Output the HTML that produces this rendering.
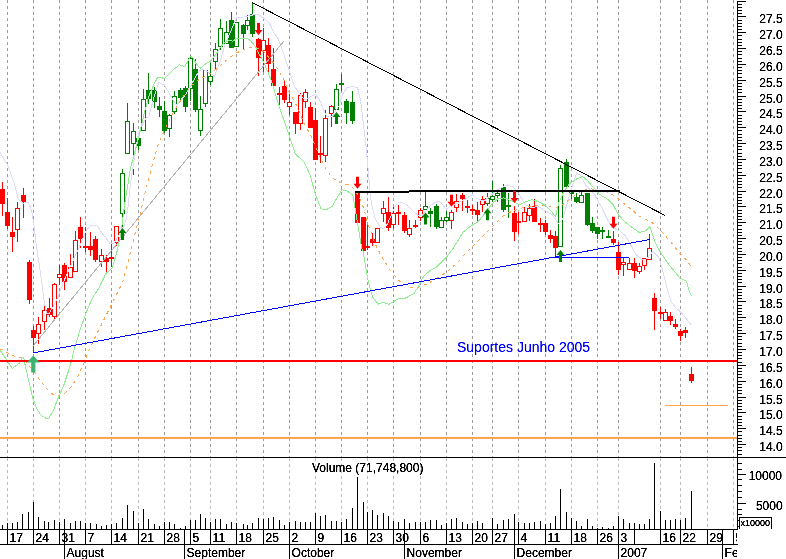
<!DOCTYPE html>
<html><head><meta charset="utf-8"><title>Chart</title>
<style>html,body{margin:0;padding:0;background:#fff;overflow:hidden}svg{display:block}text{font-family:"Liberation Sans",sans-serif;}</style></head><body>
<svg width="786" height="559" viewBox="0 0 786 559" shape-rendering="crispEdges">
<rect x="0" y="0" width="786" height="559" fill="#ffffff"/>
<defs><filter id="bw" x="0" y="0" width="100%" height="100%" filterUnits="userSpaceOnUse" primitiveUnits="userSpaceOnUse"><feComponentTransfer><feFuncA type="linear" slope="2.0" intercept="-0.12"/></feComponentTransfer></filter><filter id="bw2" x="0" y="0" width="100%" height="100%" filterUnits="userSpaceOnUse" primitiveUnits="userSpaceOnUse"><feComponentTransfer><feFuncA type="linear" slope="1.35" intercept="-0.05"/></feComponentTransfer></filter></defs>
<g stroke="#9c9c9c" stroke-width="1" stroke-dasharray="3 3" fill="none">
<line x1="7.5" y1="0" x2="7.5" y2="457"/>
<line x1="33.5" y1="0" x2="33.5" y2="457"/>
<line x1="59.5" y1="0" x2="59.5" y2="457"/>
<line x1="85.5" y1="0" x2="85.5" y2="457"/>
<line x1="111.5" y1="0" x2="111.5" y2="457"/>
<line x1="138.5" y1="0" x2="138.5" y2="457"/>
<line x1="164.5" y1="0" x2="164.5" y2="457"/>
<line x1="190.5" y1="0" x2="190.5" y2="457"/>
<line x1="210.5" y1="0" x2="210.5" y2="457"/>
<line x1="236.5" y1="0" x2="236.5" y2="457"/>
<line x1="263.5" y1="0" x2="263.5" y2="457"/>
<line x1="289.5" y1="0" x2="289.5" y2="457"/>
<line x1="315.5" y1="0" x2="315.5" y2="457"/>
<line x1="341.5" y1="0" x2="341.5" y2="457"/>
<line x1="367.5" y1="0" x2="367.5" y2="457"/>
<line x1="393.5" y1="0" x2="393.5" y2="457"/>
<line x1="420.5" y1="0" x2="420.5" y2="457"/>
<line x1="446.5" y1="0" x2="446.5" y2="457"/>
<line x1="472.5" y1="0" x2="472.5" y2="457"/>
<line x1="492.5" y1="0" x2="492.5" y2="457"/>
<line x1="518.5" y1="0" x2="518.5" y2="457"/>
<line x1="545.5" y1="0" x2="545.5" y2="457"/>
<line x1="571.5" y1="0" x2="571.5" y2="457"/>
<line x1="597.5" y1="0" x2="597.5" y2="457"/>
<line x1="618.5" y1="0" x2="618.5" y2="457"/>
<line x1="660.5" y1="0" x2="660.5" y2="457"/>
<line x1="680.5" y1="0" x2="680.5" y2="457"/>
<line x1="707.5" y1="0" x2="707.5" y2="457"/>
<line x1="733.5" y1="0" x2="733.5" y2="457"/>
</g>
<g stroke="#bcbcbc" stroke-width="1" stroke-dasharray="3 3" fill="none">
<line x1="7.5" y1="458" x2="7.5" y2="529"/>
<line x1="33.5" y1="458" x2="33.5" y2="529"/>
<line x1="59.5" y1="458" x2="59.5" y2="529"/>
<line x1="85.5" y1="458" x2="85.5" y2="529"/>
<line x1="111.5" y1="458" x2="111.5" y2="529"/>
<line x1="138.5" y1="458" x2="138.5" y2="529"/>
<line x1="164.5" y1="458" x2="164.5" y2="529"/>
<line x1="190.5" y1="458" x2="190.5" y2="529"/>
<line x1="210.5" y1="458" x2="210.5" y2="529"/>
<line x1="236.5" y1="458" x2="236.5" y2="529"/>
<line x1="263.5" y1="458" x2="263.5" y2="529"/>
<line x1="289.5" y1="458" x2="289.5" y2="529"/>
<line x1="315.5" y1="458" x2="315.5" y2="529"/>
<line x1="341.5" y1="458" x2="341.5" y2="529"/>
<line x1="367.5" y1="458" x2="367.5" y2="529"/>
<line x1="393.5" y1="458" x2="393.5" y2="529"/>
<line x1="420.5" y1="458" x2="420.5" y2="529"/>
<line x1="446.5" y1="458" x2="446.5" y2="529"/>
<line x1="472.5" y1="458" x2="472.5" y2="529"/>
<line x1="492.5" y1="458" x2="492.5" y2="529"/>
<line x1="518.5" y1="458" x2="518.5" y2="529"/>
<line x1="545.5" y1="458" x2="545.5" y2="529"/>
<line x1="571.5" y1="458" x2="571.5" y2="529"/>
<line x1="597.5" y1="458" x2="597.5" y2="529"/>
<line x1="618.5" y1="458" x2="618.5" y2="529"/>
<line x1="660.5" y1="458" x2="660.5" y2="529"/>
<line x1="680.5" y1="458" x2="680.5" y2="529"/>
<line x1="707.5" y1="458" x2="707.5" y2="529"/>
<line x1="733.5" y1="458" x2="733.5" y2="529"/>
</g>
<rect x="0" y="437" width="737" height="2" fill="#ffa54f"/>
<rect x="665" y="405" width="63" height="1" fill="#ffa54f"/>
<rect x="2" y="182" width="1" height="34" fill="#ff0000"/>
<rect x="0" y="189" width="5" height="15" fill="#ff0000"/>
<rect x="7" y="198" width="1" height="31" fill="#ff0000"/>
<rect x="5" y="212" width="5" height="14" fill="#ff0000"/>
<rect x="12" y="217" width="1" height="35" fill="#ff0000"/>
<rect x="10" y="232" width="5" height="5" fill="#ff0000"/>
<rect x="17" y="202" width="1" height="6" fill="#ff0000"/>
<rect x="17" y="230" width="1" height="12" fill="#ff0000"/>
<rect x="15.5" y="208.5" width="4" height="21" fill="#fff" stroke="#ff0000" stroke-width="1"/>
<rect x="23" y="188" width="1" height="30" fill="#ff0000"/>
<rect x="21" y="195" width="5" height="7" fill="#ff0000"/>
<rect x="29" y="260" width="1" height="44" fill="#ff0000"/>
<rect x="27" y="262" width="5" height="38" fill="#ff0000"/>
<rect x="33" y="326" width="1" height="26" fill="#ff0000"/>
<rect x="31" y="330" width="5" height="8" fill="#ff0000"/>
<rect x="38" y="317" width="1" height="7" fill="#ff0000"/>
<rect x="38" y="334" width="1" height="10" fill="#ff0000"/>
<rect x="36.5" y="324.5" width="4" height="9" fill="#fff" stroke="#ff0000" stroke-width="1"/>
<rect x="44" y="304" width="1" height="6" fill="#ff0000"/>
<rect x="44" y="322" width="1" height="8" fill="#ff0000"/>
<rect x="42.5" y="310.5" width="4" height="11" fill="#fff" stroke="#ff0000" stroke-width="1"/>
<rect x="49" y="298" width="1" height="19" fill="#ff0000"/>
<rect x="47" y="308" width="5" height="7" fill="#ff0000"/>
<rect x="54" y="283" width="1" height="1" fill="#ff0000"/>
<rect x="54" y="317" width="1" height="4" fill="#ff0000"/>
<rect x="52.5" y="284.5" width="4" height="32" fill="#fff" stroke="#ff0000" stroke-width="1"/>
<rect x="59" y="265" width="1" height="9" fill="#ff0000"/>
<rect x="59" y="278" width="1" height="7" fill="#ff0000"/>
<rect x="57.5" y="274.5" width="4" height="3" fill="#fff" stroke="#ff0000" stroke-width="1"/>
<rect x="64" y="263" width="1" height="27" fill="#ff0000"/>
<rect x="62" y="265" width="5" height="17" fill="#ff0000"/>
<rect x="70" y="254" width="1" height="13" fill="#ff0000"/>
<rect x="68.5" y="267.5" width="4" height="10" fill="#fff" stroke="#ff0000" stroke-width="1"/>
<rect x="75" y="231" width="1" height="9" fill="#ff0000"/>
<rect x="73.5" y="240.5" width="4" height="31" fill="#fff" stroke="#ff0000" stroke-width="1"/>
<rect x="80" y="217" width="1" height="31" fill="#ff0000"/>
<rect x="78" y="227" width="5" height="12" fill="#ff0000"/>
<rect x="85" y="227" width="1" height="25" fill="#ff0000"/>
<rect x="83" y="246" width="5" height="2" fill="#ff0000"/>
<rect x="90" y="232" width="1" height="24" fill="#ff0000"/>
<rect x="88" y="246" width="5" height="4" fill="#ff0000"/>
<rect x="95" y="236" width="1" height="26" fill="#ff0000"/>
<rect x="93" y="239" width="5" height="21" fill="#ff0000"/>
<rect x="101" y="249" width="1" height="6" fill="#ff0000"/>
<rect x="101" y="262" width="1" height="5" fill="#ff0000"/>
<rect x="99.5" y="255.5" width="4" height="6" fill="#fff" stroke="#ff0000" stroke-width="1"/>
<rect x="106" y="255" width="1" height="19" fill="#ff0000"/>
<rect x="104" y="258" width="5" height="4" fill="#ff0000"/>
<rect x="111" y="244" width="1" height="23" fill="#ff0000"/>
<rect x="109" y="257" width="5" height="2" fill="#ff0000"/>
<rect x="116" y="243" width="1" height="3" fill="#ff0000"/>
<rect x="114.5" y="226.5" width="4" height="16" fill="#fff" stroke="#ff0000" stroke-width="1"/>
<rect x="122" y="169" width="1" height="4" fill="#008000"/>
<rect x="122" y="214" width="1" height="14" fill="#008000"/>
<rect x="120.5" y="173.5" width="4" height="40" fill="#fff" stroke="#008000" stroke-width="1"/>
<rect x="127" y="103" width="1" height="18" fill="#008000"/>
<rect x="125.5" y="121.5" width="4" height="32" fill="#fff" stroke="#008000" stroke-width="1"/>
<rect x="133" y="123" width="1" height="8" fill="#008000"/>
<rect x="133" y="144" width="1" height="15" fill="#008000"/>
<rect x="131.5" y="131.5" width="4" height="12" fill="#fff" stroke="#008000" stroke-width="1"/>
<rect x="138" y="138" width="1" height="12" fill="#008000"/>
<rect x="136" y="138" width="5" height="8" fill="#008000"/>
<rect x="143" y="89" width="1" height="10" fill="#008000"/>
<rect x="141.5" y="99.5" width="4" height="31" fill="#fff" stroke="#008000" stroke-width="1"/>
<rect x="148" y="73" width="1" height="31" fill="#008000"/>
<rect x="146" y="90" width="5" height="9" fill="#008000"/>
<rect x="154" y="87" width="1" height="21" fill="#008000"/>
<rect x="152" y="90" width="5" height="12" fill="#008000"/>
<rect x="159" y="97" width="1" height="20" fill="#008000"/>
<rect x="157" y="106" width="5" height="4" fill="#008000"/>
<rect x="164" y="101" width="1" height="32" fill="#008000"/>
<rect x="162" y="111" width="5" height="20" fill="#008000"/>
<rect x="169" y="114" width="1" height="1" fill="#008000"/>
<rect x="169" y="129" width="1" height="8" fill="#008000"/>
<rect x="167.5" y="115.5" width="4" height="13" fill="#fff" stroke="#008000" stroke-width="1"/>
<rect x="174" y="91" width="1" height="5" fill="#008000"/>
<rect x="174" y="112" width="1" height="2" fill="#008000"/>
<rect x="172.5" y="96.5" width="4" height="15" fill="#fff" stroke="#008000" stroke-width="1"/>
<rect x="180" y="88" width="1" height="13" fill="#008000"/>
<rect x="178" y="90" width="5" height="8" fill="#008000"/>
<rect x="185" y="86" width="1" height="26" fill="#008000"/>
<rect x="183" y="88" width="5" height="19" fill="#008000"/>
<rect x="190" y="57" width="1" height="1" fill="#008000"/>
<rect x="190" y="89" width="1" height="12" fill="#008000"/>
<rect x="188.5" y="58.5" width="4" height="30" fill="#fff" stroke="#008000" stroke-width="1"/>
<rect x="195" y="59" width="1" height="53" fill="#008000"/>
<rect x="193" y="69" width="5" height="41" fill="#008000"/>
<rect x="200" y="96" width="1" height="13" fill="#008000"/>
<rect x="200" y="131" width="1" height="5" fill="#008000"/>
<rect x="198.5" y="109.5" width="4" height="21" fill="#fff" stroke="#008000" stroke-width="1"/>
<rect x="205" y="104" width="1" height="3" fill="#008000"/>
<rect x="203.5" y="70.5" width="4" height="33" fill="#fff" stroke="#008000" stroke-width="1"/>
<rect x="210" y="63" width="1" height="13" fill="#008000"/>
<rect x="210" y="82" width="1" height="3" fill="#008000"/>
<rect x="208.5" y="76.5" width="4" height="5" fill="#fff" stroke="#008000" stroke-width="1"/>
<rect x="215" y="43" width="1" height="6" fill="#008000"/>
<rect x="215" y="62" width="1" height="8" fill="#008000"/>
<rect x="213.5" y="49.5" width="4" height="12" fill="#fff" stroke="#008000" stroke-width="1"/>
<rect x="220" y="19" width="1" height="9" fill="#008000"/>
<rect x="220" y="47" width="1" height="3" fill="#008000"/>
<rect x="218.5" y="28.5" width="4" height="18" fill="#fff" stroke="#008000" stroke-width="1"/>
<rect x="226" y="21" width="1" height="11" fill="#008000"/>
<rect x="224.5" y="32.5" width="4" height="11" fill="#fff" stroke="#008000" stroke-width="1"/>
<rect x="231" y="12" width="1" height="36" fill="#008000"/>
<rect x="229" y="20" width="5" height="28" fill="#008000"/>
<rect x="234.5" y="22.5" width="4" height="24" fill="#fff" stroke="#008000" stroke-width="1"/>
<rect x="243" y="24" width="1" height="26" fill="#008000"/>
<rect x="241" y="25" width="5" height="9" fill="#008000"/>
<rect x="247" y="15" width="1" height="5" fill="#008000"/>
<rect x="247" y="26" width="1" height="4" fill="#008000"/>
<rect x="245.5" y="20.5" width="4" height="5" fill="#fff" stroke="#008000" stroke-width="1"/>
<rect x="252" y="3" width="1" height="34" fill="#008000"/>
<rect x="250" y="14" width="5" height="20" fill="#008000"/>
<rect x="258" y="38" width="1" height="38" fill="#ff0000"/>
<rect x="256" y="39" width="5" height="19" fill="#ff0000"/>
<rect x="263" y="28" width="1" height="12" fill="#ff0000"/>
<rect x="263" y="51" width="1" height="21" fill="#ff0000"/>
<rect x="261.5" y="40.5" width="4" height="10" fill="#fff" stroke="#ff0000" stroke-width="1"/>
<rect x="268" y="38" width="1" height="37" fill="#ff0000"/>
<rect x="266" y="45" width="5" height="19" fill="#ff0000"/>
<rect x="273" y="48" width="1" height="38" fill="#ff0000"/>
<rect x="271" y="69" width="5" height="17" fill="#ff0000"/>
<rect x="279" y="87" width="1" height="18" fill="#ff0000"/>
<rect x="277" y="93" width="5" height="2" fill="#ff0000"/>
<rect x="284" y="81" width="1" height="22" fill="#ff0000"/>
<rect x="282" y="86" width="5" height="14" fill="#ff0000"/>
<rect x="289" y="94" width="1" height="8" fill="#ff0000"/>
<rect x="289" y="107" width="1" height="8" fill="#ff0000"/>
<rect x="287.5" y="102.5" width="4" height="4" fill="#fff" stroke="#ff0000" stroke-width="1"/>
<rect x="295" y="112" width="1" height="22" fill="#ff0000"/>
<rect x="293" y="112" width="5" height="12" fill="#ff0000"/>
<rect x="300" y="93" width="1" height="2" fill="#ff0000"/>
<rect x="300" y="124" width="1" height="6" fill="#ff0000"/>
<rect x="298.5" y="95.5" width="4" height="28" fill="#fff" stroke="#ff0000" stroke-width="1"/>
<rect x="305" y="89" width="1" height="3" fill="#ff0000"/>
<rect x="305" y="102" width="1" height="6" fill="#ff0000"/>
<rect x="303.5" y="92.5" width="4" height="9" fill="#fff" stroke="#ff0000" stroke-width="1"/>
<rect x="310" y="102" width="1" height="26" fill="#ff0000"/>
<rect x="308" y="107" width="5" height="21" fill="#ff0000"/>
<rect x="315" y="108" width="1" height="52" fill="#ff0000"/>
<rect x="313" y="120" width="5" height="40" fill="#ff0000"/>
<rect x="320" y="136" width="1" height="27" fill="#ff0000"/>
<rect x="318" y="153" width="5" height="2" fill="#ff0000"/>
<rect x="325" y="110" width="1" height="8" fill="#ff0000"/>
<rect x="325" y="156" width="1" height="6" fill="#ff0000"/>
<rect x="323.5" y="118.5" width="4" height="37" fill="#fff" stroke="#ff0000" stroke-width="1"/>
<rect x="331" y="105" width="1" height="1" fill="#ff0000"/>
<rect x="331" y="114" width="1" height="13" fill="#ff0000"/>
<rect x="329.5" y="106.5" width="4" height="7" fill="#fff" stroke="#ff0000" stroke-width="1"/>
<rect x="336" y="84" width="1" height="5" fill="#008000"/>
<rect x="334.5" y="89.5" width="4" height="20" fill="#fff" stroke="#008000" stroke-width="1"/>
<rect x="341" y="74" width="1" height="17" fill="#008000"/>
<rect x="339" y="83" width="5" height="2" fill="#008000"/>
<rect x="346" y="99" width="1" height="25" fill="#008000"/>
<rect x="344" y="101" width="5" height="12" fill="#008000"/>
<rect x="352" y="91" width="1" height="33" fill="#008000"/>
<rect x="350" y="102" width="5" height="19" fill="#008000"/>
<rect x="357" y="192" width="1" height="31" fill="#ff0000"/>
<rect x="355" y="192" width="5" height="31" fill="#ff0000"/>
<rect x="363" y="217" width="1" height="34" fill="#ff0000"/>
<rect x="361" y="217" width="5" height="34" fill="#ff0000"/>
<rect x="367" y="225" width="1" height="25" fill="#ff0000"/>
<rect x="365" y="246" width="5" height="2" fill="#ff0000"/>
<rect x="372" y="233" width="1" height="13" fill="#ff0000"/>
<rect x="370" y="239" width="5" height="4" fill="#ff0000"/>
<rect x="375.5" y="228.5" width="4" height="14" fill="#fff" stroke="#ff0000" stroke-width="1"/>
<rect x="383" y="201" width="1" height="7" fill="#ff0000"/>
<rect x="383" y="214" width="1" height="8" fill="#ff0000"/>
<rect x="381.5" y="208.5" width="4" height="5" fill="#fff" stroke="#ff0000" stroke-width="1"/>
<rect x="388" y="197" width="1" height="34" fill="#ff0000"/>
<rect x="386" y="212" width="5" height="16" fill="#ff0000"/>
<rect x="393" y="207" width="1" height="6" fill="#ff0000"/>
<rect x="393" y="225" width="1" height="4" fill="#ff0000"/>
<rect x="391.5" y="213.5" width="4" height="11" fill="#fff" stroke="#ff0000" stroke-width="1"/>
<rect x="398" y="205" width="1" height="20" fill="#ff0000"/>
<rect x="396" y="212" width="5" height="2" fill="#ff0000"/>
<rect x="404" y="212" width="1" height="21" fill="#ff0000"/>
<rect x="402" y="215" width="5" height="16" fill="#ff0000"/>
<rect x="409" y="220" width="1" height="8" fill="#ff0000"/>
<rect x="409" y="235" width="1" height="2" fill="#ff0000"/>
<rect x="407.5" y="228.5" width="4" height="6" fill="#fff" stroke="#ff0000" stroke-width="1"/>
<rect x="415" y="220" width="1" height="8" fill="#ff0000"/>
<rect x="413" y="225" width="5" height="2" fill="#ff0000"/>
<rect x="420" y="208" width="1" height="2" fill="#ff0000"/>
<rect x="420" y="218" width="1" height="3" fill="#ff0000"/>
<rect x="418.5" y="210.5" width="4" height="7" fill="#fff" stroke="#ff0000" stroke-width="1"/>
<rect x="425" y="192" width="1" height="14" fill="#008000"/>
<rect x="423.5" y="206.5" width="4" height="3" fill="#fff" stroke="#008000" stroke-width="1"/>
<rect x="430" y="208" width="1" height="19" fill="#008000"/>
<rect x="428" y="211" width="5" height="3" fill="#008000"/>
<rect x="436" y="204" width="1" height="25" fill="#008000"/>
<rect x="434" y="206" width="5" height="21" fill="#008000"/>
<rect x="441" y="217" width="1" height="3" fill="#008000"/>
<rect x="439.5" y="220.5" width="4" height="7" fill="#fff" stroke="#008000" stroke-width="1"/>
<rect x="446" y="211" width="1" height="6" fill="#008000"/>
<rect x="446" y="221" width="1" height="1" fill="#008000"/>
<rect x="444.5" y="217.5" width="4" height="3" fill="#fff" stroke="#008000" stroke-width="1"/>
<rect x="451" y="210" width="1" height="2" fill="#ff0000"/>
<rect x="451" y="221" width="1" height="8" fill="#ff0000"/>
<rect x="449.5" y="212.5" width="4" height="8" fill="#fff" stroke="#ff0000" stroke-width="1"/>
<rect x="456" y="194" width="1" height="7" fill="#ff0000"/>
<rect x="456" y="208" width="1" height="4" fill="#ff0000"/>
<rect x="454.5" y="201.5" width="4" height="6" fill="#fff" stroke="#ff0000" stroke-width="1"/>
<rect x="462" y="193" width="1" height="18" fill="#ff0000"/>
<rect x="460" y="195" width="5" height="4" fill="#ff0000"/>
<rect x="467" y="200" width="1" height="13" fill="#ff0000"/>
<rect x="465" y="206" width="5" height="2" fill="#ff0000"/>
<rect x="472" y="205" width="1" height="10" fill="#ff0000"/>
<rect x="470" y="209" width="5" height="2" fill="#ff0000"/>
<rect x="477" y="202" width="1" height="20" fill="#ff0000"/>
<rect x="475" y="210" width="5" height="5" fill="#ff0000"/>
<rect x="482" y="196" width="1" height="3" fill="#ff0000"/>
<rect x="482" y="205" width="1" height="7" fill="#ff0000"/>
<rect x="480.5" y="199.5" width="4" height="5" fill="#fff" stroke="#ff0000" stroke-width="1"/>
<rect x="487" y="193" width="1" height="5" fill="#008000"/>
<rect x="487" y="204" width="1" height="2" fill="#008000"/>
<rect x="485.5" y="198.5" width="4" height="5" fill="#fff" stroke="#008000" stroke-width="1"/>
<rect x="492" y="181" width="1" height="15" fill="#008000"/>
<rect x="492" y="200" width="1" height="2" fill="#008000"/>
<rect x="490.5" y="196.5" width="4" height="3" fill="#fff" stroke="#008000" stroke-width="1"/>
<rect x="497" y="192" width="1" height="1" fill="#008000"/>
<rect x="497" y="196" width="1" height="6" fill="#008000"/>
<rect x="495.5" y="193.5" width="4" height="2" fill="#fff" stroke="#008000" stroke-width="1"/>
<rect x="503" y="184" width="1" height="28" fill="#008000"/>
<rect x="501" y="187" width="5" height="23" fill="#008000"/>
<rect x="508" y="193" width="1" height="25" fill="#008000"/>
<rect x="506" y="205" width="5" height="2" fill="#008000"/>
<rect x="514" y="206" width="1" height="35" fill="#ff0000"/>
<rect x="512" y="213" width="5" height="19" fill="#ff0000"/>
<rect x="518" y="212" width="1" height="22" fill="#ff0000"/>
<rect x="516" y="221" width="5" height="2" fill="#ff0000"/>
<rect x="524" y="207" width="1" height="5" fill="#ff0000"/>
<rect x="522.5" y="212.5" width="4" height="9" fill="#fff" stroke="#ff0000" stroke-width="1"/>
<rect x="529" y="204" width="1" height="4" fill="#ff0000"/>
<rect x="529" y="216" width="1" height="5" fill="#ff0000"/>
<rect x="527.5" y="208.5" width="4" height="7" fill="#fff" stroke="#ff0000" stroke-width="1"/>
<rect x="534" y="199" width="1" height="23" fill="#ff0000"/>
<rect x="532" y="206" width="5" height="16" fill="#ff0000"/>
<rect x="540" y="218" width="1" height="14" fill="#ff0000"/>
<rect x="538" y="223" width="5" height="2" fill="#ff0000"/>
<rect x="545" y="220" width="1" height="15" fill="#ff0000"/>
<rect x="543" y="223" width="5" height="9" fill="#ff0000"/>
<rect x="550" y="230" width="1" height="13" fill="#ff0000"/>
<rect x="548" y="235" width="5" height="4" fill="#ff0000"/>
<rect x="555" y="231" width="1" height="25" fill="#ff0000"/>
<rect x="553" y="236" width="5" height="12" fill="#ff0000"/>
<rect x="560" y="165" width="1" height="3" fill="#008000"/>
<rect x="558.5" y="168.5" width="4" height="78" fill="#fff" stroke="#008000" stroke-width="1"/>
<rect x="566" y="159" width="1" height="29" fill="#008000"/>
<rect x="564" y="162" width="5" height="25" fill="#008000"/>
<rect x="571" y="188" width="1" height="11" fill="#008000"/>
<rect x="569" y="192" width="5" height="2" fill="#008000"/>
<rect x="576" y="193" width="1" height="10" fill="#008000"/>
<rect x="574" y="197" width="5" height="5" fill="#008000"/>
<rect x="581" y="192" width="1" height="3" fill="#008000"/>
<rect x="579.5" y="195.5" width="4" height="7" fill="#fff" stroke="#008000" stroke-width="1"/>
<rect x="587" y="193" width="1" height="33" fill="#008000"/>
<rect x="585" y="193" width="5" height="32" fill="#008000"/>
<rect x="592" y="217" width="1" height="16" fill="#008000"/>
<rect x="590" y="223" width="5" height="8" fill="#008000"/>
<rect x="597" y="227" width="1" height="12" fill="#008000"/>
<rect x="595" y="227" width="5" height="7" fill="#008000"/>
<rect x="602" y="227" width="1" height="12" fill="#008000"/>
<rect x="600" y="230" width="5" height="2" fill="#008000"/>
<rect x="608" y="230" width="1" height="8" fill="#008000"/>
<rect x="606" y="236" width="5" height="2" fill="#008000"/>
<rect x="613" y="231" width="1" height="14" fill="#ff0000"/>
<rect x="611" y="239" width="5" height="4" fill="#ff0000"/>
<rect x="618" y="242" width="1" height="33" fill="#ff0000"/>
<rect x="616" y="252" width="5" height="18" fill="#ff0000"/>
<rect x="623" y="258" width="1" height="4" fill="#ff0000"/>
<rect x="623" y="265" width="1" height="11" fill="#ff0000"/>
<rect x="621.5" y="262.5" width="4" height="2" fill="#fff" stroke="#ff0000" stroke-width="1"/>
<rect x="629" y="258" width="1" height="5" fill="#ff0000"/>
<rect x="627.5" y="263.5" width="4" height="6" fill="#fff" stroke="#ff0000" stroke-width="1"/>
<rect x="634" y="258" width="1" height="20" fill="#ff0000"/>
<rect x="632" y="263" width="5" height="8" fill="#ff0000"/>
<rect x="639" y="263" width="1" height="3" fill="#ff0000"/>
<rect x="639" y="272" width="1" height="2" fill="#ff0000"/>
<rect x="637.5" y="266.5" width="4" height="5" fill="#fff" stroke="#ff0000" stroke-width="1"/>
<rect x="644" y="266" width="1" height="4" fill="#ff0000"/>
<rect x="642.5" y="258.5" width="4" height="7" fill="#fff" stroke="#ff0000" stroke-width="1"/>
<rect x="649" y="234" width="1" height="14" fill="#ff0000"/>
<rect x="647.5" y="248.5" width="4" height="11" fill="#fff" stroke="#ff0000" stroke-width="1"/>
<rect x="654" y="293" width="1" height="37" fill="#ff0000"/>
<rect x="652" y="298" width="5" height="13" fill="#ff0000"/>
<rect x="660" y="307" width="1" height="12" fill="#ff0000"/>
<rect x="658" y="312" width="5" height="2" fill="#ff0000"/>
<rect x="665" y="309" width="1" height="3" fill="#ff0000"/>
<rect x="663.5" y="312.5" width="4" height="8" fill="#fff" stroke="#ff0000" stroke-width="1"/>
<rect x="670" y="312" width="1" height="13" fill="#ff0000"/>
<rect x="668" y="316" width="5" height="5" fill="#ff0000"/>
<rect x="675" y="319" width="1" height="10" fill="#ff0000"/>
<rect x="673" y="324" width="5" height="3" fill="#ff0000"/>
<rect x="680" y="329" width="1" height="12" fill="#ff0000"/>
<rect x="678" y="331" width="5" height="5" fill="#ff0000"/>
<rect x="685" y="327" width="1" height="11" fill="#ff0000"/>
<rect x="683" y="330" width="5" height="3" fill="#ff0000"/>
<rect x="691" y="367" width="1" height="16" fill="#ff0000"/>
<rect x="689" y="374" width="5" height="7" fill="#ff0000"/>
<rect x="133" y="169" width="1" height="6" fill="#008000"/>
<polyline points="0.0,152.5 7.5,165.0 11.5,175.0 15.3,187.2 18.3,199.4 22.9,203.2 28.2,202.5 31.3,209.4 33.6,222.3 35.9,242.2 38.0,257.0 40.5,272.9 44.3,301.9 46.5,313.0 49.0,314.0 56.5,300.4 64.1,280.5 73.3,260.0 79.4,247.0 86.0,230.9 90.5,225.2 96.6,225.2 102.7,234.0 110.4,243.9 113.4,243.9 121.0,232.0 125.6,222.0 127.9,208.0 130.5,183.4 135.1,152.9 138.2,134.6 140.5,128.3 145.8,118.4 148.9,116.1 153.4,99.3 158.8,82.5 164.1,84.8 171.8,97.7 176.3,105.4 185.5,94.7 197.7,73.3 200.8,69.5 205.3,70.3 214.5,76.0 220.4,61.1 225.0,44.3 231.1,30.5 236.5,17.6 241.8,17.6 247.9,16.0 257.1,14.0 263.2,17.6 269.3,22.9 273.9,32.8 278.4,38.9 283.0,51.9 289.6,71.8 294.2,85.5 299.5,93.9 304.9,100.0 310.2,97.0 315.3,94.4 319.4,99.3 323.2,108.4 326.3,116.1 331.6,116.8 339.2,105.4 342.3,94.7 346.9,87.8 353.0,86.3 357.6,87.8 360.5,100.0 365.5,141.0 367.8,165.4 370.0,191.3 371.3,202.9 375.1,218.2 379.7,226.6 383.5,228.9 387.3,224.3 391.9,213.6 396.5,204.4 399.5,202.1 404.1,203.2 408.7,206.7 413.3,211.3 417.9,215.4 422.4,215.1 427.0,209.8 431.6,204.4 437.7,201.4 440.8,202.1 446.1,209.4 450.7,205.5 458.3,203.2 466.0,198.7 472.1,194.8 478.2,199.4 484.3,201.0 490.4,195.6 498.0,189.5 507.2,184.9 513.3,187.2 519.4,194.8 525.5,204.8 531.6,207.8 537.7,206.3 546.9,211.6 552.2,214.6 558.3,223.5 562.9,218.9 570.5,191.2 576.6,172.9 580.0,175.2 585.8,185.1 593.4,192.7 601.1,206.5 607.2,218.9 611.8,227.4 619.4,230.7 625.5,236.0 631.6,246.5 636.1,254.7 642.2,260.0 646.8,258.8 653.0,251.3 659.0,257.7 662.1,268.4 665.9,283.7 668.2,292.6 671.2,301.8 675.8,307.9 680.4,311.7 685.0,317.1 691.1,324.7" fill="none" stroke="#dcdcfa" stroke-width="1"/>
<polyline points="0.0,349.5 3.0,350.0 9.9,354.3 16.8,357.3 22.1,357.8 35.1,372.8 39.7,379.7 44.3,385.8 48.9,391.1 53.4,394.7 59.5,395.4 65.6,392.7 70.2,388.1 74.8,381.2 77.9,375.9 80.9,369.0 84.7,362.1 87.0,355.3 90.1,347.6 93.1,341.5 100.0,327.5 107.5,312.5 115.0,297.5 122.5,282.5 130.0,254.0 136.2,229.0 140.5,213.2 145.8,189.5 151.9,166.6 158.0,145.3 161.8,135.9 171.8,115.3 179.4,102.3 185.5,93.2 191.6,85.5 199.2,79.4 208.2,74.8 218.9,67.2 228.1,58.8 235.7,53.4 241.8,50.4 247.9,47.6 254.0,47.3 260.1,48.9 264.7,52.7 272.5,61.8 278.4,70.2 284.5,80.9 289.6,93.2 297.3,106.9 304.1,123.7 310.5,134.8 316.6,149.4 324.3,166.1 331.9,177.6 338.0,181.4 344.1,183.7 350.2,185.5 354.8,189.8 359.8,198.3 363.7,208.2 367.5,222.7 372.1,235.0 375.1,243.8 381.2,256.0 388.9,268.2 393.4,274.4 399.5,281.2 404.1,284.0 411.0,287.3 416.3,287.8 422.4,285.8 428.5,283.2 434.7,279.4 440.8,275.9 446.9,271.8 453.0,266.7 460.0,259.8 462.9,255.9 475.1,243.7 485.8,233.0 498.0,220.8 505.6,213.9 513.3,210.9 522.4,207.8 531.6,206.3 539.2,205.2 546.9,205.5 552.2,207.3 558.3,208.0 564.4,203.4 570.5,198.9 576.6,194.3 582.7,190.5 588.9,188.2 595.0,189.7 601.1,190.9 607.2,192.0 613.3,195.0 619.4,199.6 625.5,205.0 631.6,209.5 637.7,214.9 643.8,219.2 649.9,220.9 654.5,224.6 660.5,230.3 671.2,242.5 680.4,253.9 687.3,260.8 690.8,266.1" fill="none" stroke="#ffa54f" stroke-width="1" stroke-dasharray="3 4"/>
<polyline points="0.0,350.0 6.0,359.0 12.3,368.5 19.8,362.7 22.0,357.6 23.7,357.6 24.6,362.7 28.2,378.7 32.8,398.0 36.6,408.7 41.2,415.6 45.8,418.2 48.9,418.2 53.4,410.2 58.8,396.5 64.1,384.3 68.7,370.5 71.8,359.8 74.8,346.1 77.1,340.0 80.0,330.0 86.2,312.5 92.5,297.5 98.4,289.0 105.8,273.7 111.9,268.4 116.5,253.9 118.8,243.2 121.1,232.5 122.6,220.3 124.6,205.0 130.5,168.2 136.6,145.3 138.2,139.7 144.3,113.0 148.9,96.2 153.4,85.5 157.3,77.9 161.0,77.1 164.1,79.1 171.8,71.0 179.4,64.9 184.7,66.5 187.8,61.1 190.5,56.2 193.1,58.0 196.0,63.4 200.2,68.3 205.3,64.2 210.5,61.1 217.4,51.9 223.5,43.5 228.8,40.5 232.6,41.2 237.2,38.2 241.8,38.9 247.1,38.2 251.0,41.2 254.8,45.8 258.5,53.0 263.2,61.1 267.8,71.8 272.5,84.0 278.2,103.9 289.5,136.0 295.3,153.9 304.4,162.3 310.5,176.1 315.4,194.4 321.0,208.7 326.0,210.0 332.2,206.2 341.8,189.6 347.4,191.0 353.0,195.5 355.5,211.0 361.6,248.0 362.9,250.7 367.5,278.2 370.5,290.4 372.8,297.3 378.2,304.1 383.5,302.3 388.9,304.4 393.4,301.8 398.0,298.8 405.6,298.0 414.0,293.4 417.9,287.3 420.9,281.2 424.0,275.9 430.1,270.5 436.2,267.5 446.9,256.8 453.0,248.4 458.3,240.0 462.9,232.3 470.5,226.1 478.2,221.6 485.8,212.4 491.9,204.0 498.0,198.7 504.1,197.9 511.8,201.0 519.4,204.8 525.5,201.7 531.6,199.7 537.7,201.3 545.3,205.5 551.5,211.6 555.5,216.6 559.1,201.9 564.4,190.5 570.5,182.8 576.6,179.0 582.4,176.3 587.3,180.5 593.4,187.4 599.5,194.3 607.2,198.9 613.3,205.0 617.9,214.1 624.0,221.0 631.6,227.1 639.2,232.4 645.3,231.0 649.8,226.9 652.5,234.5 655.2,242.5 660.5,252.4 668.2,263.9 675.8,273.0 680.4,278.4 686.5,281.4 688.8,289.8 691.5,296.5" fill="none" stroke="#90ee90" stroke-width="1"/>
<line x1="33" y1="346" x2="284" y2="41" stroke="#b4b4b4" stroke-width="1"/>
<rect x="0" y="360" width="737" height="2" fill="#ff0000"/>
<line x1="33" y1="353" x2="650" y2="239.5" stroke="#0000ff" stroke-width="1"/>
<rect x="554" y="257" width="75" height="1" fill="#0000ff"/>
<line x1="252" y1="2.5" x2="665" y2="215.4" stroke="#000" stroke-width="1"/>
<polygon points="355,191 409,191 409,190 620,190 620,192 409,192 409,193 355,193" fill="#000"/>
<polygon shape-rendering="geometricPrecision" points="33.3,355.6 39.699999999999996,362.5 35.4,362.5 35.4,372.6 31.199999999999996,372.6 31.199999999999996,362.5 26.9,362.5" fill="#3cb371"/>
<polygon shape-rendering="geometricPrecision" points="122.5,228 126.5,233 124.0,233 124.0,240 121.0,240 121.0,233 118.5,233" fill="#008000"/>
<polygon shape-rendering="geometricPrecision" points="336.5,112 340.5,117 338.0,117 338.0,124 335.0,124 335.0,117 332.5,117" fill="#008000"/>
<polygon shape-rendering="geometricPrecision" points="425.5,212.4 429.5,217.4 427.0,217.4 427.0,224.4 424.0,224.4 424.0,217.4 421.5,217.4" fill="#008000"/>
<polygon shape-rendering="geometricPrecision" points="487.5,208.3 491.5,213.3 489.0,213.3 489.0,220.3 486.0,220.3 486.0,213.3 483.5,213.3" fill="#008000"/>
<polygon shape-rendering="geometricPrecision" points="560.5,250 564.5,255 562.0,255 562.0,262 559.0,262 559.0,255 556.5,255" fill="#008000"/>
<polygon shape-rendering="geometricPrecision" points="258.5,35 262.5,30 260.0,30 260.0,23 257.0,23 257.0,30 254.5,30" fill="#ff0000"/>
<polygon shape-rendering="geometricPrecision" points="357.5,188.7 361.5,183.7 359.0,183.7 359.0,176.7 356.0,176.7 356.0,183.7 353.5,183.7" fill="#ff0000"/>
<polygon shape-rendering="geometricPrecision" points="451.5,206.8 455.5,201.8 453.0,201.8 453.0,194.8 450.0,194.8 450.0,201.8 447.5,201.8" fill="#ff0000"/>
<polygon shape-rendering="geometricPrecision" points="514.5,202.9 518.5,197.9 516.0,197.9 516.0,190.9 513.0,190.9 513.0,197.9 510.5,197.9" fill="#ff0000"/>
<polygon shape-rendering="geometricPrecision" points="613.5,228.8 617.5,223.8 615.0,223.8 615.0,216.8 612.0,216.8 612.0,223.8 609.5,223.8" fill="#ff0000"/>
<text x="457" y="351.5" font-size="14" fill="#0000ff" filter="url(#bw2)">Suportes Junho 2005</text>
<rect x="0" y="457" width="786" height="1" fill="#000"/>
<rect x="2" y="525" width="1" height="4" fill="#000"/>
<rect x="7" y="523" width="1" height="6" fill="#000"/>
<rect x="12" y="523" width="1" height="6" fill="#000"/>
<rect x="17" y="522" width="1" height="7" fill="#000"/>
<rect x="22" y="514" width="1" height="15" fill="#000"/>
<rect x="28" y="512" width="1" height="17" fill="#000"/>
<rect x="33" y="502" width="1" height="27" fill="#000"/>
<rect x="38" y="517" width="1" height="12" fill="#000"/>
<rect x="44" y="521" width="1" height="8" fill="#000"/>
<rect x="48" y="522" width="1" height="7" fill="#000"/>
<rect x="54" y="520" width="1" height="9" fill="#000"/>
<rect x="59" y="522" width="1" height="7" fill="#000"/>
<rect x="64" y="519" width="1" height="10" fill="#000"/>
<rect x="70" y="523" width="1" height="6" fill="#000"/>
<rect x="75" y="521" width="1" height="8" fill="#000"/>
<rect x="80" y="521" width="1" height="8" fill="#000"/>
<rect x="85" y="523" width="1" height="6" fill="#000"/>
<rect x="90" y="523" width="1" height="6" fill="#000"/>
<rect x="96" y="524" width="1" height="5" fill="#000"/>
<rect x="101" y="526" width="1" height="3" fill="#000"/>
<rect x="106" y="525" width="1" height="4" fill="#000"/>
<rect x="111" y="524" width="1" height="5" fill="#000"/>
<rect x="116" y="523" width="1" height="6" fill="#000"/>
<rect x="122" y="518" width="1" height="11" fill="#000"/>
<rect x="127" y="505" width="1" height="24" fill="#000"/>
<rect x="133" y="511" width="1" height="18" fill="#000"/>
<rect x="138" y="523" width="1" height="6" fill="#000"/>
<rect x="143" y="509" width="1" height="20" fill="#000"/>
<rect x="148" y="519" width="1" height="10" fill="#000"/>
<rect x="154" y="524" width="1" height="5" fill="#000"/>
<rect x="159" y="526" width="1" height="3" fill="#000"/>
<rect x="164" y="522" width="1" height="7" fill="#000"/>
<rect x="169" y="522" width="1" height="7" fill="#000"/>
<rect x="174" y="524" width="1" height="5" fill="#000"/>
<rect x="180" y="528" width="1" height="1" fill="#000"/>
<rect x="185" y="526" width="1" height="3" fill="#000"/>
<rect x="190" y="520" width="1" height="9" fill="#000"/>
<rect x="195" y="520" width="1" height="9" fill="#000"/>
<rect x="200" y="514" width="1" height="15" fill="#000"/>
<rect x="205" y="518" width="1" height="11" fill="#000"/>
<rect x="210" y="522" width="1" height="7" fill="#000"/>
<rect x="215" y="519" width="1" height="10" fill="#000"/>
<rect x="220" y="519" width="1" height="10" fill="#000"/>
<rect x="226" y="524" width="1" height="5" fill="#000"/>
<rect x="231" y="522" width="1" height="7" fill="#000"/>
<rect x="236" y="523" width="1" height="6" fill="#000"/>
<rect x="243" y="524" width="1" height="5" fill="#000"/>
<rect x="247" y="525" width="1" height="4" fill="#000"/>
<rect x="252" y="523" width="1" height="6" fill="#000"/>
<rect x="258" y="518" width="1" height="11" fill="#000"/>
<rect x="263" y="519" width="1" height="10" fill="#000"/>
<rect x="268" y="518" width="1" height="11" fill="#000"/>
<rect x="273" y="517" width="1" height="12" fill="#000"/>
<rect x="279" y="520" width="1" height="9" fill="#000"/>
<rect x="284" y="525" width="1" height="4" fill="#000"/>
<rect x="289" y="522" width="1" height="7" fill="#000"/>
<rect x="295" y="521" width="1" height="8" fill="#000"/>
<rect x="300" y="522" width="1" height="7" fill="#000"/>
<rect x="305" y="522" width="1" height="7" fill="#000"/>
<rect x="310" y="522" width="1" height="7" fill="#000"/>
<rect x="315" y="513" width="1" height="16" fill="#000"/>
<rect x="320" y="516" width="1" height="13" fill="#000"/>
<rect x="325" y="515" width="1" height="14" fill="#000"/>
<rect x="331" y="521" width="1" height="8" fill="#000"/>
<rect x="336" y="521" width="1" height="8" fill="#000"/>
<rect x="341" y="522" width="1" height="7" fill="#000"/>
<rect x="346" y="519" width="1" height="10" fill="#000"/>
<rect x="352" y="508" width="1" height="21" fill="#000"/>
<rect x="357" y="477" width="1" height="52" fill="#000"/>
<rect x="363" y="502" width="1" height="27" fill="#000"/>
<rect x="367" y="512" width="1" height="17" fill="#000"/>
<rect x="372" y="510" width="1" height="19" fill="#000"/>
<rect x="377" y="515" width="1" height="14" fill="#000"/>
<rect x="383" y="513" width="1" height="16" fill="#000"/>
<rect x="388" y="516" width="1" height="13" fill="#000"/>
<rect x="393" y="521" width="1" height="8" fill="#000"/>
<rect x="398" y="522" width="1" height="7" fill="#000"/>
<rect x="404" y="519" width="1" height="10" fill="#000"/>
<rect x="409" y="523" width="1" height="6" fill="#000"/>
<rect x="415" y="522" width="1" height="7" fill="#000"/>
<rect x="420" y="522" width="1" height="7" fill="#000"/>
<rect x="425" y="522" width="1" height="7" fill="#000"/>
<rect x="430" y="520" width="1" height="9" fill="#000"/>
<rect x="436" y="520" width="1" height="9" fill="#000"/>
<rect x="441" y="525" width="1" height="4" fill="#000"/>
<rect x="446" y="523" width="1" height="6" fill="#000"/>
<rect x="451" y="519" width="1" height="10" fill="#000"/>
<rect x="456" y="518" width="1" height="11" fill="#000"/>
<rect x="462" y="522" width="1" height="7" fill="#000"/>
<rect x="467" y="524" width="1" height="5" fill="#000"/>
<rect x="472" y="523" width="1" height="6" fill="#000"/>
<rect x="477" y="521" width="1" height="8" fill="#000"/>
<rect x="482" y="523" width="1" height="6" fill="#000"/>
<rect x="492" y="518" width="1" height="11" fill="#000"/>
<rect x="497" y="524" width="1" height="5" fill="#000"/>
<rect x="503" y="520" width="1" height="9" fill="#000"/>
<rect x="508" y="519" width="1" height="10" fill="#000"/>
<rect x="514" y="514" width="1" height="15" fill="#000"/>
<rect x="518" y="522" width="1" height="7" fill="#000"/>
<rect x="524" y="523" width="1" height="6" fill="#000"/>
<rect x="529" y="523" width="1" height="6" fill="#000"/>
<rect x="534" y="522" width="1" height="7" fill="#000"/>
<rect x="540" y="521" width="1" height="8" fill="#000"/>
<rect x="545" y="524" width="1" height="5" fill="#000"/>
<rect x="550" y="523" width="1" height="6" fill="#000"/>
<rect x="555" y="516" width="1" height="13" fill="#000"/>
<rect x="560" y="489" width="1" height="40" fill="#000"/>
<rect x="566" y="512" width="1" height="17" fill="#000"/>
<rect x="571" y="518" width="1" height="11" fill="#000"/>
<rect x="576" y="521" width="1" height="8" fill="#000"/>
<rect x="581" y="526" width="1" height="3" fill="#000"/>
<rect x="587" y="519" width="1" height="10" fill="#000"/>
<rect x="592" y="526" width="1" height="3" fill="#000"/>
<rect x="597" y="528" width="1" height="1" fill="#000"/>
<rect x="602" y="527" width="1" height="2" fill="#000"/>
<rect x="608" y="528" width="1" height="1" fill="#000"/>
<rect x="613" y="526" width="1" height="3" fill="#000"/>
<rect x="618" y="516" width="1" height="13" fill="#000"/>
<rect x="623" y="519" width="1" height="10" fill="#000"/>
<rect x="629" y="523" width="1" height="6" fill="#000"/>
<rect x="634" y="523" width="1" height="6" fill="#000"/>
<rect x="639" y="524" width="1" height="5" fill="#000"/>
<rect x="644" y="524" width="1" height="5" fill="#000"/>
<rect x="649" y="519" width="1" height="10" fill="#000"/>
<rect x="654" y="463" width="1" height="66" fill="#000"/>
<rect x="660" y="511" width="1" height="18" fill="#000"/>
<rect x="665" y="520" width="1" height="9" fill="#000"/>
<rect x="670" y="520" width="1" height="9" fill="#000"/>
<rect x="675" y="519" width="1" height="10" fill="#000"/>
<rect x="680" y="520" width="1" height="9" fill="#000"/>
<rect x="685" y="518" width="1" height="11" fill="#000"/>
<rect x="691" y="491" width="1" height="38" fill="#000"/>
<rect x="737" y="1" width="1" height="528" fill="#000"/>
<rect x="737" y="1" width="9" height="1" fill="#000"/>
<rect x="737" y="4" width="5" height="1" fill="#000"/>
<rect x="737" y="7" width="5" height="1" fill="#000"/>
<rect x="737" y="10" width="5" height="1" fill="#000"/>
<rect x="737" y="13" width="5" height="1" fill="#000"/>
<rect x="737" y="16" width="9" height="1" fill="#000"/>
<rect x="737" y="20" width="5" height="1" fill="#000"/>
<rect x="737" y="23" width="5" height="1" fill="#000"/>
<rect x="737" y="26" width="5" height="1" fill="#000"/>
<rect x="737" y="29" width="5" height="1" fill="#000"/>
<rect x="737" y="32" width="9" height="1" fill="#000"/>
<rect x="737" y="35" width="5" height="1" fill="#000"/>
<rect x="737" y="39" width="5" height="1" fill="#000"/>
<rect x="737" y="42" width="5" height="1" fill="#000"/>
<rect x="737" y="45" width="5" height="1" fill="#000"/>
<rect x="737" y="48" width="9" height="1" fill="#000"/>
<rect x="737" y="51" width="5" height="1" fill="#000"/>
<rect x="737" y="54" width="5" height="1" fill="#000"/>
<rect x="737" y="58" width="5" height="1" fill="#000"/>
<rect x="737" y="61" width="5" height="1" fill="#000"/>
<rect x="737" y="64" width="9" height="1" fill="#000"/>
<rect x="737" y="67" width="5" height="1" fill="#000"/>
<rect x="737" y="70" width="5" height="1" fill="#000"/>
<rect x="737" y="73" width="5" height="1" fill="#000"/>
<rect x="737" y="77" width="5" height="1" fill="#000"/>
<rect x="737" y="80" width="9" height="1" fill="#000"/>
<rect x="737" y="83" width="5" height="1" fill="#000"/>
<rect x="737" y="86" width="5" height="1" fill="#000"/>
<rect x="737" y="89" width="5" height="1" fill="#000"/>
<rect x="737" y="92" width="5" height="1" fill="#000"/>
<rect x="737" y="96" width="9" height="1" fill="#000"/>
<rect x="737" y="99" width="5" height="1" fill="#000"/>
<rect x="737" y="102" width="5" height="1" fill="#000"/>
<rect x="737" y="105" width="5" height="1" fill="#000"/>
<rect x="737" y="108" width="5" height="1" fill="#000"/>
<rect x="737" y="111" width="9" height="1" fill="#000"/>
<rect x="737" y="115" width="5" height="1" fill="#000"/>
<rect x="737" y="118" width="5" height="1" fill="#000"/>
<rect x="737" y="121" width="5" height="1" fill="#000"/>
<rect x="737" y="124" width="5" height="1" fill="#000"/>
<rect x="737" y="127" width="9" height="1" fill="#000"/>
<rect x="737" y="130" width="5" height="1" fill="#000"/>
<rect x="737" y="134" width="5" height="1" fill="#000"/>
<rect x="737" y="137" width="5" height="1" fill="#000"/>
<rect x="737" y="140" width="5" height="1" fill="#000"/>
<rect x="737" y="143" width="9" height="1" fill="#000"/>
<rect x="737" y="146" width="5" height="1" fill="#000"/>
<rect x="737" y="149" width="5" height="1" fill="#000"/>
<rect x="737" y="153" width="5" height="1" fill="#000"/>
<rect x="737" y="156" width="5" height="1" fill="#000"/>
<rect x="737" y="159" width="9" height="1" fill="#000"/>
<rect x="737" y="162" width="5" height="1" fill="#000"/>
<rect x="737" y="165" width="5" height="1" fill="#000"/>
<rect x="737" y="168" width="5" height="1" fill="#000"/>
<rect x="737" y="172" width="5" height="1" fill="#000"/>
<rect x="737" y="175" width="9" height="1" fill="#000"/>
<rect x="737" y="178" width="5" height="1" fill="#000"/>
<rect x="737" y="181" width="5" height="1" fill="#000"/>
<rect x="737" y="184" width="5" height="1" fill="#000"/>
<rect x="737" y="187" width="5" height="1" fill="#000"/>
<rect x="737" y="191" width="9" height="1" fill="#000"/>
<rect x="737" y="194" width="5" height="1" fill="#000"/>
<rect x="737" y="197" width="5" height="1" fill="#000"/>
<rect x="737" y="200" width="5" height="1" fill="#000"/>
<rect x="737" y="203" width="5" height="1" fill="#000"/>
<rect x="737" y="206" width="9" height="1" fill="#000"/>
<rect x="737" y="210" width="5" height="1" fill="#000"/>
<rect x="737" y="213" width="5" height="1" fill="#000"/>
<rect x="737" y="216" width="5" height="1" fill="#000"/>
<rect x="737" y="219" width="5" height="1" fill="#000"/>
<rect x="737" y="222" width="9" height="1" fill="#000"/>
<rect x="737" y="225" width="5" height="1" fill="#000"/>
<rect x="737" y="229" width="5" height="1" fill="#000"/>
<rect x="737" y="232" width="5" height="1" fill="#000"/>
<rect x="737" y="235" width="5" height="1" fill="#000"/>
<rect x="737" y="238" width="9" height="1" fill="#000"/>
<rect x="737" y="241" width="5" height="1" fill="#000"/>
<rect x="737" y="244" width="5" height="1" fill="#000"/>
<rect x="737" y="248" width="5" height="1" fill="#000"/>
<rect x="737" y="251" width="5" height="1" fill="#000"/>
<rect x="737" y="254" width="9" height="1" fill="#000"/>
<rect x="737" y="257" width="5" height="1" fill="#000"/>
<rect x="737" y="260" width="5" height="1" fill="#000"/>
<rect x="737" y="263" width="5" height="1" fill="#000"/>
<rect x="737" y="267" width="5" height="1" fill="#000"/>
<rect x="737" y="270" width="9" height="1" fill="#000"/>
<rect x="737" y="273" width="5" height="1" fill="#000"/>
<rect x="737" y="276" width="5" height="1" fill="#000"/>
<rect x="737" y="279" width="5" height="1" fill="#000"/>
<rect x="737" y="282" width="5" height="1" fill="#000"/>
<rect x="737" y="286" width="9" height="1" fill="#000"/>
<rect x="737" y="289" width="5" height="1" fill="#000"/>
<rect x="737" y="292" width="5" height="1" fill="#000"/>
<rect x="737" y="295" width="5" height="1" fill="#000"/>
<rect x="737" y="298" width="5" height="1" fill="#000"/>
<rect x="737" y="301" width="9" height="1" fill="#000"/>
<rect x="737" y="305" width="5" height="1" fill="#000"/>
<rect x="737" y="308" width="5" height="1" fill="#000"/>
<rect x="737" y="311" width="5" height="1" fill="#000"/>
<rect x="737" y="314" width="5" height="1" fill="#000"/>
<rect x="737" y="317" width="9" height="1" fill="#000"/>
<rect x="737" y="320" width="5" height="1" fill="#000"/>
<rect x="737" y="324" width="5" height="1" fill="#000"/>
<rect x="737" y="327" width="5" height="1" fill="#000"/>
<rect x="737" y="330" width="5" height="1" fill="#000"/>
<rect x="737" y="333" width="9" height="1" fill="#000"/>
<rect x="737" y="336" width="5" height="1" fill="#000"/>
<rect x="737" y="339" width="5" height="1" fill="#000"/>
<rect x="737" y="343" width="5" height="1" fill="#000"/>
<rect x="737" y="346" width="5" height="1" fill="#000"/>
<rect x="737" y="349" width="9" height="1" fill="#000"/>
<rect x="737" y="352" width="5" height="1" fill="#000"/>
<rect x="737" y="355" width="5" height="1" fill="#000"/>
<rect x="737" y="358" width="5" height="1" fill="#000"/>
<rect x="737" y="362" width="5" height="1" fill="#000"/>
<rect x="737" y="365" width="9" height="1" fill="#000"/>
<rect x="737" y="368" width="5" height="1" fill="#000"/>
<rect x="737" y="371" width="5" height="1" fill="#000"/>
<rect x="737" y="374" width="5" height="1" fill="#000"/>
<rect x="737" y="377" width="5" height="1" fill="#000"/>
<rect x="737" y="381" width="9" height="1" fill="#000"/>
<rect x="737" y="384" width="5" height="1" fill="#000"/>
<rect x="737" y="387" width="5" height="1" fill="#000"/>
<rect x="737" y="390" width="5" height="1" fill="#000"/>
<rect x="737" y="393" width="5" height="1" fill="#000"/>
<rect x="737" y="397" width="9" height="1" fill="#000"/>
<rect x="737" y="400" width="5" height="1" fill="#000"/>
<rect x="737" y="403" width="5" height="1" fill="#000"/>
<rect x="737" y="406" width="5" height="1" fill="#000"/>
<rect x="737" y="409" width="5" height="1" fill="#000"/>
<rect x="737" y="412" width="9" height="1" fill="#000"/>
<rect x="737" y="416" width="5" height="1" fill="#000"/>
<rect x="737" y="419" width="5" height="1" fill="#000"/>
<rect x="737" y="422" width="5" height="1" fill="#000"/>
<rect x="737" y="425" width="5" height="1" fill="#000"/>
<rect x="737" y="428" width="9" height="1" fill="#000"/>
<rect x="737" y="431" width="5" height="1" fill="#000"/>
<rect x="737" y="435" width="5" height="1" fill="#000"/>
<rect x="737" y="438" width="5" height="1" fill="#000"/>
<rect x="737" y="441" width="5" height="1" fill="#000"/>
<rect x="737" y="444" width="9" height="1" fill="#000"/>
<rect x="737" y="447" width="5" height="1" fill="#000"/>
<rect x="737" y="450" width="5" height="1" fill="#000"/>
<rect x="737" y="454" width="5" height="1" fill="#000"/>
<rect x="737" y="463" width="5" height="1" fill="#000"/>
<rect x="737" y="469" width="5" height="1" fill="#000"/>
<rect x="737" y="474" width="9" height="1" fill="#000"/>
<rect x="737" y="479" width="5" height="1" fill="#000"/>
<rect x="737" y="485" width="5" height="1" fill="#000"/>
<rect x="737" y="491" width="5" height="1" fill="#000"/>
<rect x="737" y="497" width="5" height="1" fill="#000"/>
<rect x="737" y="503" width="9" height="1" fill="#000"/>
<rect x="737" y="509" width="5" height="1" fill="#000"/>
<rect x="737" y="514" width="5" height="1" fill="#000"/>
<rect x="737" y="520" width="5" height="1" fill="#000"/>
<rect x="737" y="526" width="5" height="1" fill="#000"/>
<rect x="739" y="517" width="33" height="12" fill="#fff"/>
<rect x="739" y="517" width="33" height="1" fill="#000"/>
<rect x="739" y="517" width="1" height="12" fill="#000"/>
<rect x="771" y="517" width="1" height="12" fill="#000"/>
<rect x="0" y="529" width="738" height="1" fill="#000"/>
<rect x="0" y="544" width="738" height="1" fill="#000"/>
<clipPath id="dc"><rect x="0" y="529" width="737" height="30"/></clipPath>
<g clip-path="url(#dc)">
<rect x="7" y="529" width="1" height="15" fill="#000"/>
<rect x="33" y="529" width="1" height="15" fill="#000"/>
<rect x="59" y="529" width="1" height="15" fill="#000"/>
<rect x="85" y="529" width="1" height="15" fill="#000"/>
<rect x="111" y="529" width="1" height="15" fill="#000"/>
<rect x="138" y="529" width="1" height="15" fill="#000"/>
<rect x="164" y="529" width="1" height="15" fill="#000"/>
<rect x="190" y="529" width="1" height="15" fill="#000"/>
<rect x="210" y="529" width="1" height="15" fill="#000"/>
<rect x="236" y="529" width="1" height="15" fill="#000"/>
<rect x="263" y="529" width="1" height="15" fill="#000"/>
<rect x="289" y="529" width="1" height="15" fill="#000"/>
<rect x="315" y="529" width="1" height="15" fill="#000"/>
<rect x="341" y="529" width="1" height="15" fill="#000"/>
<rect x="367" y="529" width="1" height="15" fill="#000"/>
<rect x="393" y="529" width="1" height="15" fill="#000"/>
<rect x="420" y="529" width="1" height="15" fill="#000"/>
<rect x="446" y="529" width="1" height="15" fill="#000"/>
<rect x="472" y="529" width="1" height="15" fill="#000"/>
<rect x="492" y="529" width="1" height="15" fill="#000"/>
<rect x="518" y="529" width="1" height="15" fill="#000"/>
<rect x="545" y="529" width="1" height="15" fill="#000"/>
<rect x="571" y="529" width="1" height="15" fill="#000"/>
<rect x="597" y="529" width="1" height="15" fill="#000"/>
<rect x="618" y="529" width="1" height="15" fill="#000"/>
<rect x="634" y="529" width="1" height="15" fill="#000"/>
<rect x="660" y="529" width="1" height="15" fill="#000"/>
<rect x="680" y="529" width="1" height="15" fill="#000"/>
<rect x="707" y="529" width="1" height="15" fill="#000"/>
<rect x="733" y="529" width="1" height="15" fill="#000"/>
<rect x="64" y="529" width="1" height="30" fill="#000"/>
<rect x="184" y="529" width="1" height="30" fill="#000"/>
<rect x="289" y="529" width="1" height="30" fill="#000"/>
<rect x="404" y="529" width="1" height="30" fill="#000"/>
<rect x="514" y="529" width="1" height="30" fill="#000"/>
<rect x="618" y="529" width="1" height="30" fill="#000"/>
<rect x="722" y="529" width="1" height="30" fill="#000"/>
</g>
<g filter="url(#bw)">
<text x="312" y="472" font-size="12" fill="#000">Volume (71,748,800)</text>
<g font-size="12" fill="#000" text-anchor="end">
<text x="782.6" y="22.6">27.5</text>
<text x="782.6" y="38.6">27.0</text>
<text x="782.6" y="54.6">26.5</text>
<text x="782.6" y="70.6">26.0</text>
<text x="782.6" y="86.6">25.5</text>
<text x="782.6" y="102.6">25.0</text>
<text x="782.6" y="117.6">24.5</text>
<text x="782.6" y="133.6">24.0</text>
<text x="782.6" y="149.6">23.5</text>
<text x="782.6" y="165.6">23.0</text>
<text x="782.6" y="181.6">22.5</text>
<text x="782.6" y="197.6">22.0</text>
<text x="782.6" y="212.6">21.5</text>
<text x="782.6" y="228.6">21.0</text>
<text x="782.6" y="244.6">20.5</text>
<text x="782.6" y="260.6">20.0</text>
<text x="782.6" y="276.6">19.5</text>
<text x="782.6" y="292.6">19.0</text>
<text x="782.6" y="307.6">18.5</text>
<text x="782.6" y="323.6">18.0</text>
<text x="782.6" y="339.6">17.5</text>
<text x="782.6" y="355.6">17.0</text>
<text x="782.6" y="371.6">16.5</text>
<text x="782.6" y="387.6">16.0</text>
<text x="782.6" y="403.6">15.5</text>
<text x="782.6" y="418.6">15.0</text>
<text x="782.6" y="434.6">14.5</text>
<text x="782.6" y="450.6">14.0</text>
</g>
<g font-size="12" fill="#000" text-anchor="end">
<text x="782" y="480.4">10000</text>
<text x="782.6" y="509.6">5000</text>
</g>
<text x="740.6" y="525.8" font-size="9" fill="#000">x10000</text>
<text clip-path="url(#dc)" x="9.6" y="541.8" font-size="12" fill="#000">17</text>
<text clip-path="url(#dc)" x="35.6" y="541.8" font-size="12" fill="#000">24</text>
<text clip-path="url(#dc)" x="61.6" y="541.8" font-size="12" fill="#000">31</text>
<text clip-path="url(#dc)" x="87.6" y="541.8" font-size="12" fill="#000">7</text>
<text clip-path="url(#dc)" x="113.6" y="541.8" font-size="12" fill="#000">14</text>
<text clip-path="url(#dc)" x="140.6" y="541.8" font-size="12" fill="#000">21</text>
<text clip-path="url(#dc)" x="166.6" y="541.8" font-size="12" fill="#000">28</text>
<text clip-path="url(#dc)" x="192.6" y="541.8" font-size="12" fill="#000">5</text>
<text clip-path="url(#dc)" x="212.6" y="541.8" font-size="12" fill="#000">11</text>
<text clip-path="url(#dc)" x="238.6" y="541.8" font-size="12" fill="#000">18</text>
<text clip-path="url(#dc)" x="265.6" y="541.8" font-size="12" fill="#000">25</text>
<text clip-path="url(#dc)" x="291.6" y="541.8" font-size="12" fill="#000">2</text>
<text clip-path="url(#dc)" x="317.6" y="541.8" font-size="12" fill="#000">9</text>
<text clip-path="url(#dc)" x="343.6" y="541.8" font-size="12" fill="#000">16</text>
<text clip-path="url(#dc)" x="369.6" y="541.8" font-size="12" fill="#000">23</text>
<text clip-path="url(#dc)" x="395.6" y="541.8" font-size="12" fill="#000">30</text>
<text clip-path="url(#dc)" x="422.6" y="541.8" font-size="12" fill="#000">6</text>
<text clip-path="url(#dc)" x="448.6" y="541.8" font-size="12" fill="#000">13</text>
<text clip-path="url(#dc)" x="474.6" y="541.8" font-size="12" fill="#000">20</text>
<text clip-path="url(#dc)" x="494.6" y="541.8" font-size="12" fill="#000">27</text>
<text clip-path="url(#dc)" x="520.6" y="541.8" font-size="12" fill="#000">4</text>
<text clip-path="url(#dc)" x="547.6" y="541.8" font-size="12" fill="#000">11</text>
<text clip-path="url(#dc)" x="573.6" y="541.8" font-size="12" fill="#000">18</text>
<text clip-path="url(#dc)" x="599.6" y="541.8" font-size="12" fill="#000">26</text>
<text clip-path="url(#dc)" x="620.6" y="541.8" font-size="12" fill="#000">3</text>
<text clip-path="url(#dc)" x="662.6" y="541.8" font-size="12" fill="#000">16</text>
<text clip-path="url(#dc)" x="682.6" y="541.8" font-size="12" fill="#000">22</text>
<text clip-path="url(#dc)" x="709.6" y="541.8" font-size="12" fill="#000">29</text>
<text clip-path="url(#dc)" x="735.6" y="541.8" font-size="12" fill="#000">5</text>
<text clip-path="url(#dc)" x="66.6" y="556.6" font-size="12" fill="#000">August</text>
<text clip-path="url(#dc)" x="186.6" y="556.6" font-size="12" fill="#000">September</text>
<text clip-path="url(#dc)" x="291.6" y="556.6" font-size="12" fill="#000">October</text>
<text clip-path="url(#dc)" x="406.6" y="556.6" font-size="12" fill="#000">November</text>
<text clip-path="url(#dc)" x="516.6" y="556.6" font-size="12" fill="#000">December</text>
<text clip-path="url(#dc)" x="620.6" y="556.6" font-size="12" fill="#000">2007</text>
<text clip-path="url(#dc)" x="724.6" y="556.6" font-size="12" fill="#000">February</text>
</g>
</svg></body></html>
